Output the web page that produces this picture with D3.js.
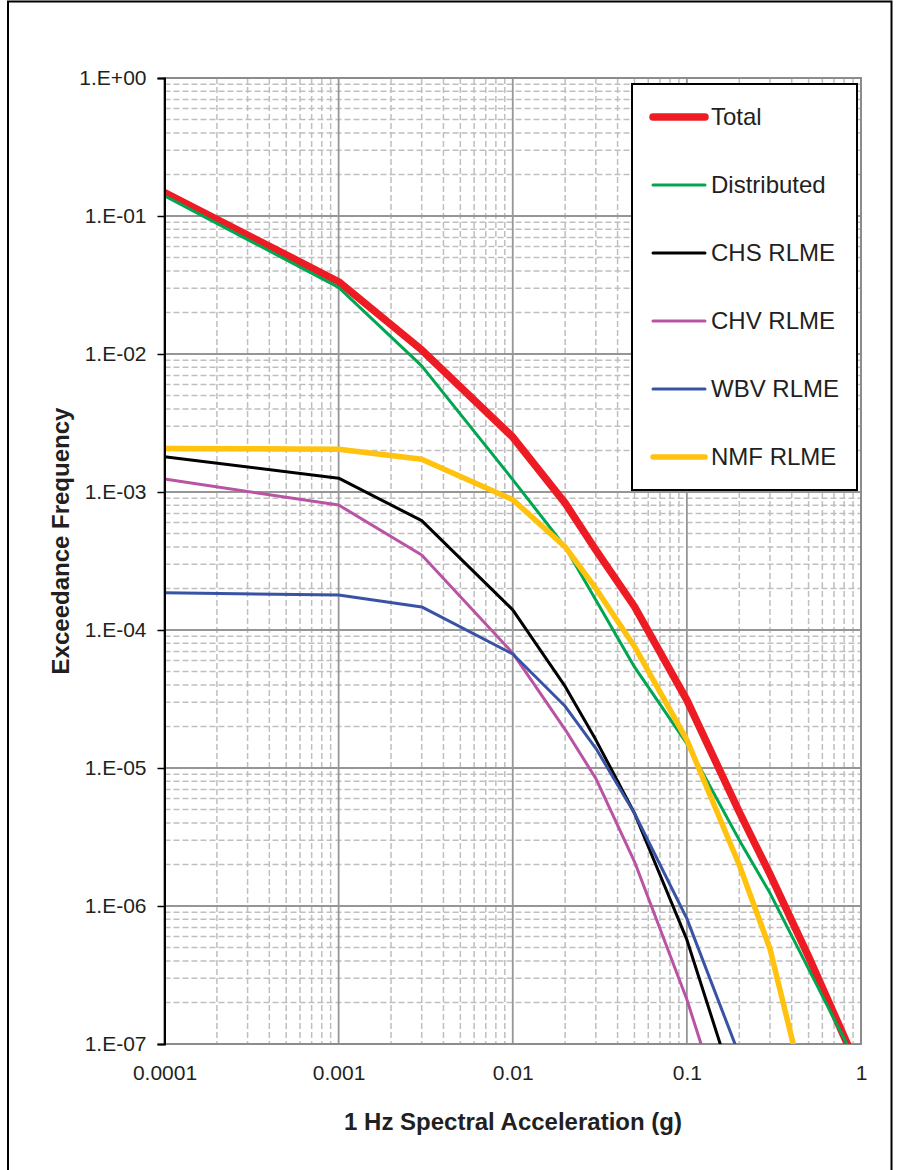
<!DOCTYPE html>
<html>
<head>
<meta charset="utf-8">
<script src="https://cdn.jsdelivr.net/npm/d3@7"></script>
<style>
  html, body { margin: 0; padding: 0; background: #fff; }
  svg { display: block; }
</style>
</head>
<body>
<div id="chart"></div>
<script>
// ---- data ----
const accel = [0.0001, 0.001, 0.003, 0.01, 0.02, 0.03, 0.05, 0.1, 0.2, 0.3, 0.5, 1.0];
const seriesNames = ["Total", "Distributed", "CHS RLME", "CHV RLME", "WBV RLME", "NMF RLME"];
const total       = [0.148, 0.0334, 0.0107, 2.5e-3, 8.3e-4, 3.8e-4, 1.48e-4, 3.1e-5, 4.8e-6, 1.7e-6, 4.3e-7, 6e-8];
const distributed = [0.140, 0.0304, 0.0082, 1.23e-3, 4.0e-4, 1.65e-4, 5.4e-5, 1.5e-5, 3.0e-6, 1.24e-6, 3.5e-7, 6.3e-8];
const chsRlme     = [1.80e-3, 1.26e-3, 6.2e-4, 1.40e-4, 3.9e-5, 1.6e-5, 4.7e-6, 5.7e-7, 3.7e-8, null, null, null];
const chvRlme     = [1.24e-3, 8.05e-4, 3.49e-4, 6.8e-5, 1.9e-5, 8.4e-6, 2.1e-6, 2.1e-7, 1.35e-8, null, null, null];
const wbvRlme     = [1.86e-4, 1.79e-4, 1.47e-4, 6.7e-5, 2.8e-5, 1.39e-5, 4.7e-6, 8.1e-7, 8.3e-8, null, null, null];
const nmfRlme     = [2.07e-3, 2.04e-3, 1.73e-3, 8.8e-4, 4.0e-4, 2.0e-4, 7.6e-5, 1.6e-5, 1.98e-6, 4.9e-7, 3.5e-8, null];
const xTickLabels = ["0.0001", "0.001", "0.01", "0.1", "1"];
const yTickLabels = ["1.E+00", "1.E-01", "1.E-02", "1.E-03", "1.E-04", "1.E-05", "1.E-06", "1.E-07"];

const seriesData = [total, distributed, chsRlme, chvRlme, wbvRlme, nmfRlme];
const colors = ["#ed1c24", "#00a651", "#000000", "#b954a4", "#3953a4", "#ffc20e"];
const widths = [7.5, 3, 3, 3, 3, 5.5];

// ---- layout ----
const W = 899, H = 1170;
const pL = 164.5, pR = 861, pT = 78, pB = 1044;

const svg = d3.select("#chart").append("svg")
  .attr("width", W).attr("height", H)
  .style("font-family", "'Liberation Sans', Arial, sans-serif");

// outer frame
svg.append("rect").attr("x", 8).attr("y", 1.5).attr("width", 883.5).attr("height", 1180)
  .attr("fill", "none").attr("stroke", "#000").attr("stroke-width", 2);

const x = d3.scaleLog().domain([1e-4, 1]).range([pL, pR]);
const y = d3.scaleLog().domain([1e-7, 1]).range([pB, pT]);

// minor grid values
const minorX = [], minorY = [];
for (let e = -4; e < 0; e++) for (let m = 2; m <= 9; m++) minorX.push(m * Math.pow(10, e));
for (let e = -7; e < 0; e++) for (let m = 2; m <= 9; m++) minorY.push(m * Math.pow(10, e));
const majorX = d3.range(-4, 1).map(e => Math.pow(10, e));
const majorY = d3.range(-7, 1).map(e => Math.pow(10, e));

const grid = svg.append("g");
grid.selectAll(".mx").data(minorX).enter().append("line")
  .attr("x1", d => x(d)).attr("x2", d => x(d)).attr("y1", pT).attr("y2", pB)
  .attr("stroke", "#bfbfbf").attr("stroke-width", 1.5).attr("stroke-dasharray", "6,3");
grid.selectAll(".my").data(minorY).enter().append("line")
  .attr("y1", d => y(d)).attr("y2", d => y(d)).attr("x1", pL).attr("x2", pR)
  .attr("stroke", "#bfbfbf").attr("stroke-width", 1.5).attr("stroke-dasharray", "6,3");
grid.selectAll(".Mx").data(majorX).enter().append("line")
  .attr("x1", d => x(d)).attr("x2", d => x(d)).attr("y1", pT).attr("y2", pB)
  .attr("stroke", "#969696").attr("stroke-width", 1.8);
grid.selectAll(".My").data(majorY).enter().append("line")
  .attr("y1", d => y(d)).attr("y2", d => y(d)).attr("x1", pL).attr("x2", pR)
  .attr("stroke", "#969696").attr("stroke-width", 1.8);

// plot border (gray)
svg.append("rect").attr("x", pL).attr("y", pT).attr("width", pR - pL).attr("height", pB - pT)
  .attr("fill", "none").attr("stroke", "#8c8c8c").attr("stroke-width", 2);

// clip
svg.append("clipPath").attr("id", "clip").append("rect")
  .attr("x", pL).attr("y", pT).attr("width", pR - pL).attr("height", pB - pT);

const line = d3.line()
  .defined(d => d[1] != null)
  .x(d => x(d[0])).y(d => y(d[1]));

const plot = svg.append("g").attr("clip-path", "url(#clip)");
seriesData.forEach((vals, i) => {
  plot.append("path")
    .datum(accel.map((a, j) => [a, vals[j]]))
    .attr("d", line)
    .attr("fill", "none")
    .attr("stroke", colors[i])
    .attr("stroke-width", widths[i])
    .attr("stroke-linejoin", "round")
    .attr("stroke-linecap", "butt");
});

// y axis (black, left)
const yAxis = d3.axisLeft(y).tickValues(majorY).tickSize(7)
  .tickFormat((d, i) => yTickLabels[majorY.length - 1 - i]);
const gy = svg.append("g").attr("transform", `translate(${pL},0)`).call(yAxis);
gy.select(".domain").attr("stroke", "#000").attr("stroke-width", 2);
gy.selectAll(".tick line").attr("stroke", "#000").attr("stroke-width", 1.5);
gy.selectAll(".tick text").attr("font-size", 21).attr("fill", "#231f20")
  .attr("x", -18).attr("font-family", "'Liberation Sans', Arial, sans-serif");

// x axis labels
const xAxis = d3.axisBottom(x).tickValues(majorX).tickSize(0)
  .tickFormat((d, i) => xTickLabels[i]);
const gx = svg.append("g").attr("transform", `translate(0,${pB})`).call(xAxis);
gx.select(".domain").remove();
gx.selectAll(".tick text").attr("font-size", 21).attr("fill", "#231f20")
  .attr("y", 21).attr("font-family", "'Liberation Sans', Arial, sans-serif");

// axis titles
svg.append("text").attr("x", 513).attr("y", 1130).attr("text-anchor", "middle")
  .attr("font-size", 24).attr("font-weight", "bold").attr("fill", "#231f20")
  .text("1 Hz Spectral Acceleration (g)");
svg.append("text").attr("transform", "translate(69,541) rotate(-90)").attr("text-anchor", "middle")
  .attr("font-size", 24).attr("font-weight", "bold").attr("fill", "#231f20")
  .text("Exceedance Frequency");

// legend
const lg = svg.append("g");
lg.append("rect").attr("x", 632).attr("y", 84).attr("width", 225).attr("height", 406)
  .attr("fill", "#fff").attr("stroke", "#000").attr("stroke-width", 2);
seriesNames.forEach((name, i) => {
  const ly = 117 + i * 68;
  lg.append("line").attr("x1", 653).attr("x2", 705).attr("y1", ly).attr("y2", ly)
    .attr("stroke", colors[i]).attr("stroke-width", widths[i]).attr("stroke-linecap", "round");
  lg.append("text").attr("x", 711).attr("y", ly).attr("dy", "0.35em")
    .attr("font-size", 24).attr("fill", "#231f20").text(name);
});
</script>
</body>
</html>
